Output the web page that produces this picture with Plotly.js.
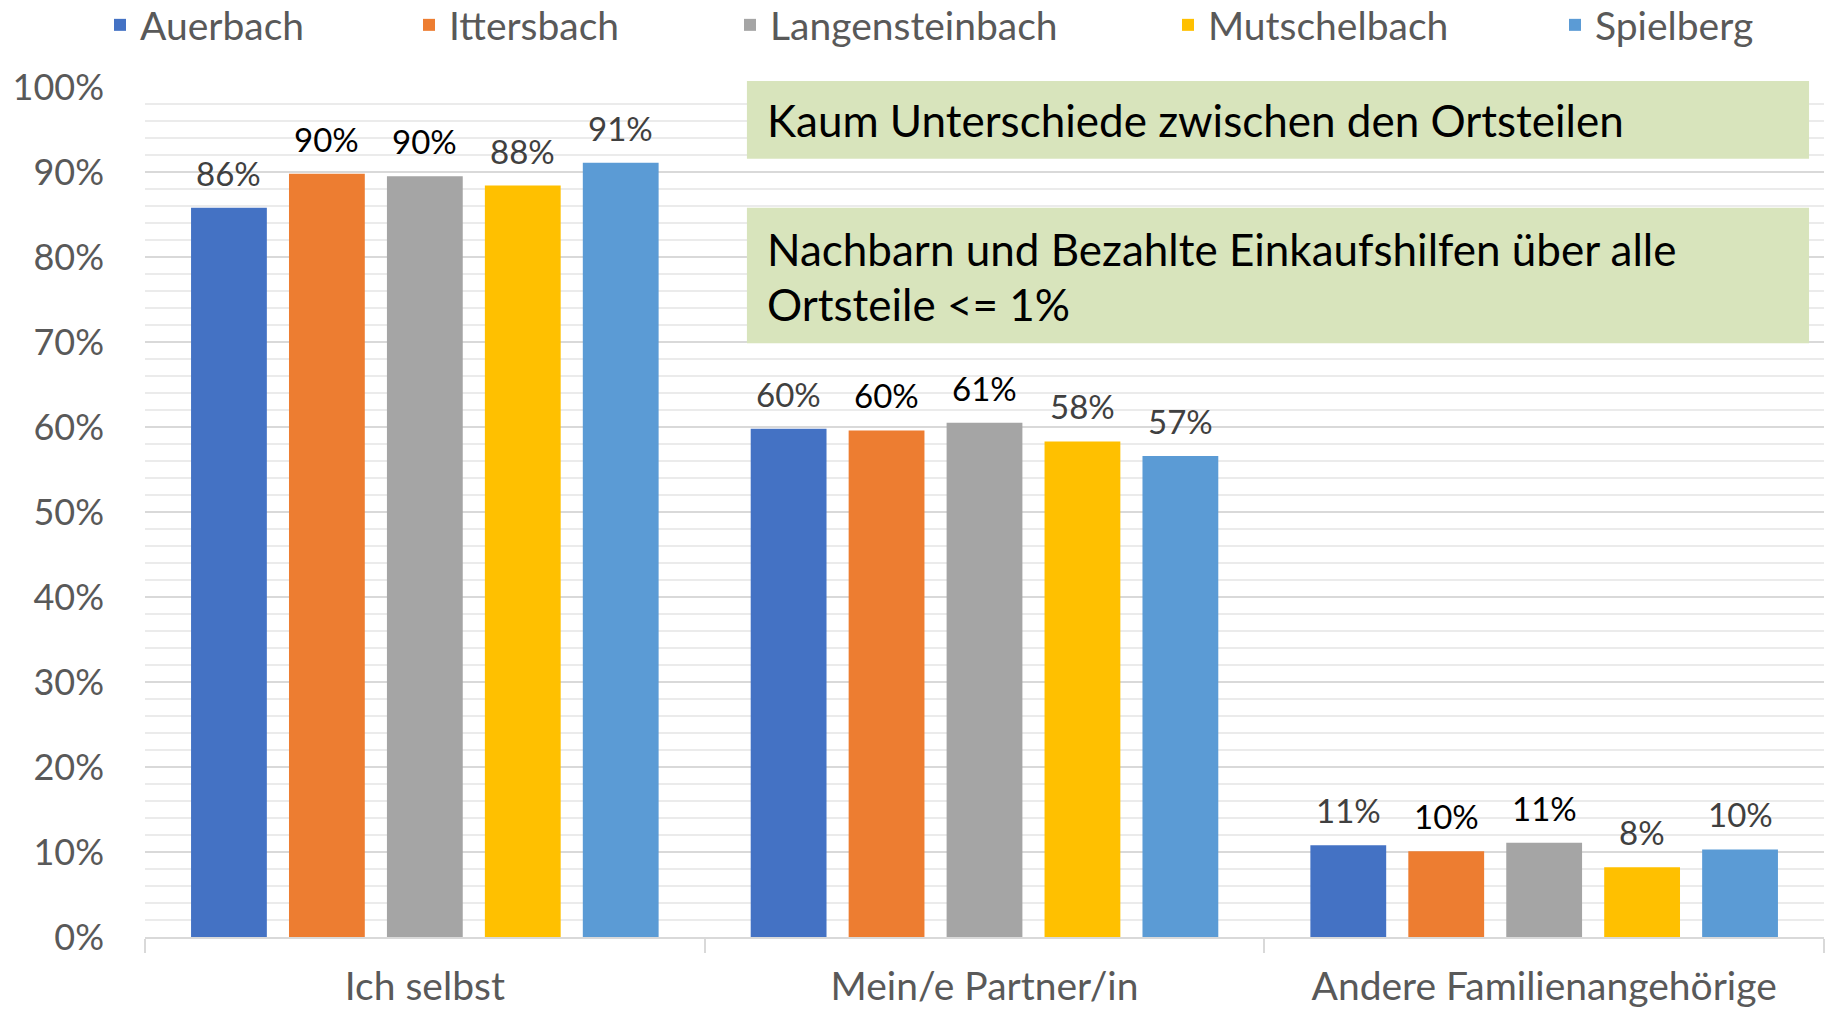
<!DOCTYPE html>
<html>
<head>
<meta charset="utf-8">
<script src="https://cdn.plot.ly/plotly-3.0.1.min.js"></script>
<style>
html, body { margin: 0; padding: 0; background: #ffffff; }
#chart { width: 1828px; height: 1012px; }
</style>
</head>
<body>
<div id="chart"></div>
<script>
// ---- data ----
const categories = ['Ich selbst', 'Mein/e Partner/in', 'Andere Familienangehörige'];
const seriesNames = ['Auerbach', 'Ittersbach', 'Langensteinbach', 'Mutschelbach', 'Spielberg'];
const auerbach = [85.8, 59.8, 10.8];
const ittersbach = [89.8, 59.6, 10.1];
const langensteinbach = [89.5, 60.5, 11.1];
const mutschelbach = [88.4, 58.3, 8.2];
const spielberg = [91.1, 56.6, 10.3];
const yTickVals = [0, 10, 20, 30, 40, 50, 60, 70, 80, 90, 100];
const yTickText = ['0%', '10%', '20%', '30%', '40%', '50%', '60%', '70%', '80%', '90%', '100%'];
const noteLine1 = 'Kaum Unterschiede zwischen den Ortsteilen';
const noteLine2a = 'Nachbarn und Bezahlte Einkaufshilfen über alle';
const noteLine2b = 'Ortsteile <= 1%';

// ---- style ----
const FONT = 'Lato, "Open Sans", sans-serif';
const seriesValues = [auerbach, ittersbach, langensteinbach, mutschelbach, spielberg];
const barColors = ['#4472C4', '#ED7D31', '#A5A5A5', '#FFC000', '#5B9BD5'];
const labelColors = ['#404040', '#000000', '#000000', '#404040', '#404040'];
const legendIds = ['legend', 'legend2', 'legend3', 'legend4', 'legend5'];
const legendX = [100, 409, 730, 1168, 1555];
const W = 1828, H = 1012;

const traces = seriesNames.map((name, i) => ({
  type: 'bar',
  name: name,
  x: categories,
  y: seriesValues[i],
  marker: { color: barColors[i] },
  legend: legendIds[i],
  showlegend: true,
  hoverinfo: 'skip'
}));

const boxFill = '#D8E4BC';
const layout = {
  width: W,
  height: H,
  showlegend: true,
  paper_bgcolor: '#ffffff',
  plot_bgcolor: '#ffffff',
  font: { family: FONT, color: '#595959' },
  margin: { l: 145, r: 4, t: 87, b: 75, autoexpand: false },
  barmode: 'group',
  bargap: 0.125,
  bargroupgap: 0.226,
  xaxis: {
    type: 'category',
    showline: true,
    linecolor: '#d9d9d9',
    linewidth: 2,
    ticks: 'outside',
    tickson: 'boundaries',
    ticklen: 14,
    tickwidth: 2,
    tickcolor: '#d9d9d9',
    ticklabelstandoff: 14,
    tickfont: { family: FONT, size: 39, color: '#595959' },
    showgrid: false,
    zeroline: false,
    fixedrange: true
  },
  yaxis: {
    range: [0, 100],
    tickmode: 'array',
    tickvals: yTickVals,
    ticktext: yTickText,
    showgrid: true,
    gridcolor: '#d9d9d9',
    gridwidth: 1.5,
    minor: { tick0: 0, dtick: 2, showgrid: true, gridcolor: '#ebebeb', gridwidth: 1.5 },
    showline: false,
    zeroline: false,
    ticks: '',
    ticklabelstandoff: 40,
    tickfont: { family: FONT, size: 36, color: '#595959' },
    fixedrange: true
  },
  shapes: [
    { type: 'rect', xref: 'paper', yref: 'paper', x0: 0.3585, x1: 0.9911, y0: 0.9156, y1: 1.0071,
      fillcolor: boxFill, line: { width: 0 }, layer: 'above' },
    { type: 'rect', xref: 'paper', yref: 'paper', x0: 0.3585, x1: 0.9911, y0: 0.6985, y1: 0.858,
      fillcolor: boxFill, line: { width: 0 }, layer: 'above' }
  ],
  annotations: []
};

legendIds.forEach((id, i) => {
  layout[id] = {
    visible: true,
    orientation: 'h',
    xref: 'container', yref: 'container',
    x: legendX[i] / W, xanchor: 'left',
    y: 1 - 25 / H, yanchor: 'middle',
    font: { family: FONT, size: 39, color: '#595959' },
    bgcolor: 'rgba(0,0,0,0)',
    borderwidth: 0
  };
});

const noteAnnotations = [
  { text: noteLine1, y: 0.9612 },
  { text: noteLine2a, y: 0.8096 },
  { text: noteLine2b, y: 0.7445 }
].map(n => ({
  text: n.text, xref: 'paper', yref: 'paper', x: 0.3693, y: n.y,
  xanchor: 'left', yanchor: 'middle', showarrow: false, align: 'left',
  font: { family: FONT, size: 44, color: '#000000' }
}));
layout.annotations = noteAnnotations.slice();

const config = { displayModeBar: false, responsive: false };

Plotly.newPlot('chart', traces, layout, config).then(gd => {
  const labels = [];
  gd.calcdata.forEach((cd, i) => {
    cd.forEach((pt, j) => {
      const v = seriesValues[i][j];
      labels.push({
        xref: 'x', yref: 'y',
        x: (typeof pt.x === 'number') ? pt.x : pt.p,
        y: v,
        text: Math.round(v) + '%',
        showarrow: false,
        xanchor: 'center', yanchor: 'bottom',
        yshift: 13,
        font: { family: FONT, size: 33, color: labelColors[i] }
      });
    });
  });
  return Plotly.relayout(gd, { annotations: noteAnnotations.concat(labels) });
});
</script>
</body>
</html>
